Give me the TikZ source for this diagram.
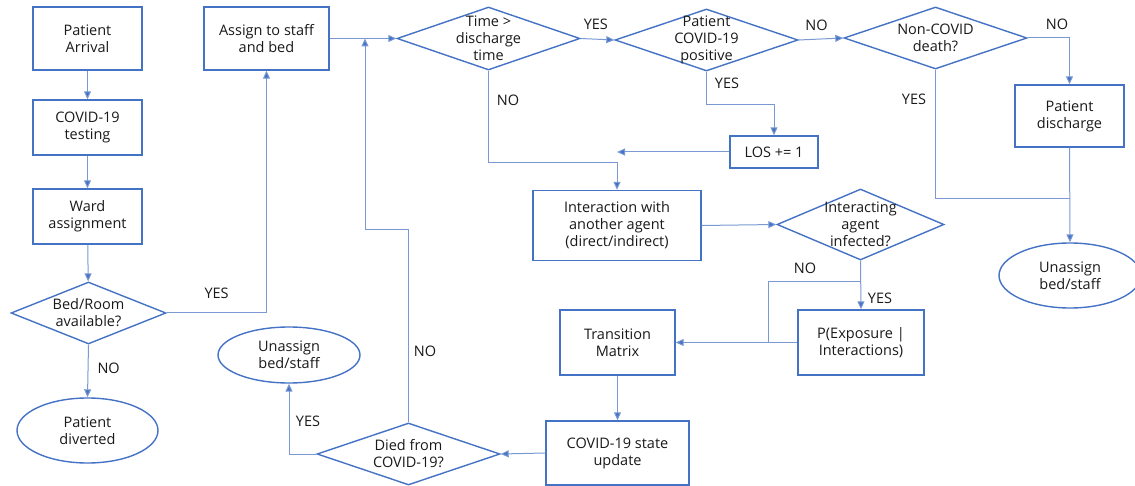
\documentclass[tikz,border=0pt]{standalone}
\usepackage{fontspec}
\setmainfont{Open Sans}
\usetikzlibrary{shapes.geometric,arrows.meta}
\definecolor{shapeblue}{HTML}{4472C4}
\definecolor{lineblue}{HTML}{7A99D2}
\tikzset{
  every node/.style={font=\fontsize{14.5}{17}\selectfont, text=black!90},
  boxnode/.style={draw=shapeblue, line width=1.4pt, rectangle, inner sep=0pt, align=center},
  decnode/.style={draw=shapeblue, line width=1.4pt, diamond, inner sep=0pt},
  ellnode/.style={draw=shapeblue, line width=1.4pt, ellipse, inner sep=0pt, align=center},
  conn/.style={draw=lineblue, line width=1pt},
  arr/.style={conn, -{Triangle[length=8pt,width=7pt,fill=shapeblue]}},
  lbl/.style={inner sep=0pt}
}
\begin{document}
\begin{tikzpicture}[x=1pt,y=-1pt]
\useasboundingbox (0,0) rectangle (1135,486);
% boxes
\node[boxnode, minimum width=109, minimum height=63] (arrival) at (87.5,38.5) {Patient\\Arrival};
\node[boxnode, minimum width=109, minimum height=55] (test) at (87.5,127.5) {COVID-19\\testing};
\node[boxnode, minimum width=109, minimum height=55] (ward) at (87.5,216.5) {Ward\\assignment};
\node[decnode, minimum width=155, minimum height=62, label={[align=center]center:Bed/Room\\available?}] (bed) at (88.5,313) {};
\node[ellnode, minimum width=141, minimum height=65] (div) at (87.5,430.5) {Patient\\diverted};
\node[boxnode, minimum width=125, minimum height=63] (assign) at (266.5,38.5) {Assign to staff\\and bed};
\node[decnode, minimum width=183, minimum height=63, label={[align=center]center:Time >\\discharge\\time}] (time) at (488.5,38.5) {};
\node[decnode, minimum width=183, minimum height=62, label={[align=center]center:Patient\\COVID-19\\positive}] (pcov) at (706.5,40) {};
\node[decnode, minimum width=183, minimum height=62, label={[align=center]center:Non-COVID\\death?}] (noncov) at (935.5,38) {};
\node[boxnode, minimum width=109, minimum height=62] (disc) at (1069.5,116) {Patient\\discharge};
\node[ellnode, minimum width=142, minimum height=65] (unas2) at (1070,275.5) {Unassign\\bed/staff};
\node[boxnode, minimum width=88, minimum height=32] (los) at (774,152) {LOS += 1};
\node[boxnode, minimum width=168, minimum height=70] (inter) at (617,225.5) {Interaction with\\another agent\\(direct/indirect)};
\node[decnode, minimum width=167, minimum height=71, label={[align=center]center:Interacting\\agent\\infected?}] (intag) at (860.5,224.5) {};
\node[boxnode, minimum width=126, minimum height=65] (pexp) at (861,342.5) {P(Exposure |\\Interactions)};
\node[boxnode, minimum width=115, minimum height=65] (trans) at (617.5,342.5) {Transition\\Matrix};
\node[boxnode, minimum width=143, minimum height=64] (upd) at (617.5,453) {COVID-19 state\\update};
\node[decnode, minimum width=183, minimum height=62, label={[align=center]center:Died from\\COVID-19?}] (died) at (408.5,454) {};
\node[ellnode, minimum width=142, minimum height=56] (unas1) at (289,355) {Unassign\\bed/staff};
% junction coordinates
\coordinate (jA) at (365,38.5);
\coordinate (kA) at (408.5,230);
\coordinate (kB) at (365,230);
\coordinate (jB) at (617,152);
\coordinate (kC) at (1069.5,199);
\coordinate (kD) at (860.5,282);
\coordinate (kE) at (768,282);
\coordinate (kF) at (768,342.5);
% connectors
\draw[arr] (arrival) -- (test);
\draw[arr] (test) -- (ward);
\draw[arr] (ward) -- (bed);
\draw[arr] (bed.south) -- (div.north) node[lbl, pos=0.45, right=9pt] {NO};
\draw[arr] (bed.east) -| (assign.south) node[lbl, pos=0.25, above=14pt] {YES};
\draw[arr] (assign.east) -- (time.west);
\draw[arr] (died.north) -- (kA) -- (kB) -- (jA);
\node[lbl] (noB) at (425,351) {NO};
\draw[arr] (time.east) -- (pcov.west) node[lbl, pos=0.45, above=9pt] {YES};
\draw[arr] (pcov.east) -- (noncov.west) node[lbl, pos=0.4, above=8pt] {NO};
\draw[arr] (noncov.east) -| (disc.north) node[lbl, pos=0.35, above=8pt] {NO};
\draw[conn] (noncov.south) |- (kC);
\node[lbl] (yesC) at (914,99) {YES};
\draw[arr] (disc.south) -- (unas2.north);
\draw[arr] (pcov.south) -- ++(0,33) -| (los.north);
\node[lbl] (yesD) at (727,83) {YES};
\draw[arr] (los.west) -- (jB);
\draw[arr] (time.south) -- ++(0,91.5) -| (inter.north);
\node[lbl] (noE) at (508,100) {NO};
\draw[arr] (inter.east) -- (intag.west);
\draw[arr] (intag.south) -- (pexp.north);
\node[lbl] (yesF) at (880,298) {YES};
\draw[conn] (kD) -- (kE) -- (kF);
\node[lbl] (noF) at (805,268) {NO};
\draw[arr] (pexp.west) -- (trans.east);
\draw[arr] (trans.south) -- (upd.north);
\draw[arr] (upd.west) -- (died.east);
\draw[arr] (died.west) -| (unas1.south);
\node[lbl] (yesG) at (308,421) {YES};
\end{tikzpicture}
\end{document}
